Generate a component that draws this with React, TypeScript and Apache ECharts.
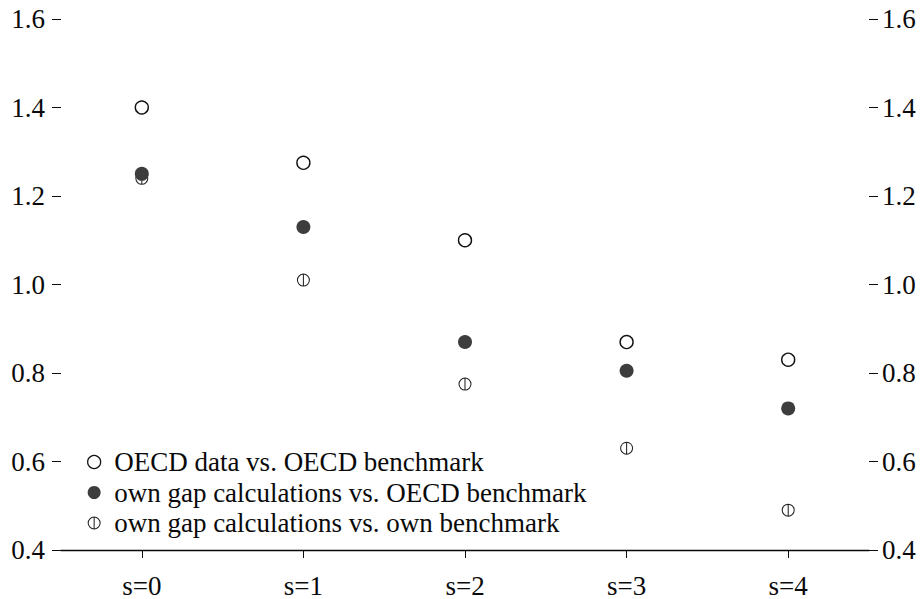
import React, { useEffect, useRef } from "react";
import * as echarts from "echarts";

const categories = ["s=0", "s=1", "s=2", "s=3", "s=4"];
const oecdVsOecd = [1.4, 1.275, 1.1, 0.87, 0.83];
const ownVsOecd = [1.25, 1.13, 0.87, 0.805, 0.72];
const ownVsOwn = [1.24, 1.01, 0.775, 0.63, 0.49];
const seriesNames = [
  "OECD data vs. OECD benchmark",
  "own gap calculations vs. OECD benchmark",
  "own gap calculations vs. own benchmark",
];
const yMin = 0.4;
const yMax = 1.6;
const yStep = 0.2;

const FONT = "Liberation Serif";
const INK = "#0a0a0a";
const circleBar =
  "path://M0,-10 A10,10 0 1,1 0,10 A10,10 0 1,1 0,-10 Z M0,-8.4 A8.4,8.4 0 1,0 0,8.4 A8.4,8.4 0 1,0 0,-8.4 Z M-0.8,-8.6 L0.8,-8.6 L0.8,8.6 L-0.8,8.6 Z";

export default function App() {
  const ref = useRef<HTMLDivElement>(null);
  useEffect(() => {
    if (!ref.current) return;
    const chart = echarts.init(ref.current, null, { renderer: "svg" });
    const yAxisBase = (pos: "left" | "right", margin: number) => ({
      type: "value",
      position: pos,
      min: yMin,
      max: yMax,
      interval: yStep,
      axisLine: { show: false },
      axisTick: { show: true, length: 9, lineStyle: { color: INK, width: 1 } },
      splitLine: { show: false },
      axisLabel: {
        margin,
        color: INK,
        fontFamily: FONT,
        fontSize: 27,
        formatter: (v: number) => v.toFixed(1),
      },
    });
    chart.setOption({
      animation: false,
      backgroundColor: "#ffffff",
      grid: { left: 61, right: 53, top: 19, bottom: 46, containLabel: false },
      xAxis: {
        type: "category",
        data: categories,
        boundaryGap: true,
        axisLine: { show: true, lineStyle: { color: INK, width: 1.3 } },
        axisTick: {
          show: true,
          alignWithLabel: true,
          length: 8,
          lineStyle: { color: INK, width: 1 },
        },
        axisLabel: {
          margin: 22,
          color: INK,
          fontFamily: FONT,
          fontSize: 27,
        },
        splitLine: { show: false },
      },
      yAxis: [yAxisBase("left", 16), yAxisBase("right", 13)],
      legend: {
        orient: "vertical",
        left: 82,
        top: 443,
        itemWidth: 30,
        itemHeight: 13,
        itemGap: 2.5,
        textStyle: {
          color: INK,
          fontFamily: FONT,
          fontSize: 27,
          lineHeight: 28,
        },
        data: [
          {
            name: seriesNames[0],
            icon: "circle",
            itemStyle: { color: "#ffffff", borderColor: "#111", borderWidth: 1.3, opacity: 1 },
          },
          {
            name: seriesNames[1],
            icon: "circle",
            itemStyle: { color: "#3d3d3d", borderWidth: 0, opacity: 1 },
          },
          {
            name: seriesNames[2],
            icon: circleBar,
            itemStyle: { color: "#222222", borderWidth: 0, opacity: 1 },
          },
        ],
      },
      series: [
        {
          name: seriesNames[2],
          type: "scatter",
          data: ownVsOwn,
          symbol: circleBar,
          symbolSize: 13,
          itemStyle: { color: "#222222", borderWidth: 0, opacity: 1 },
          z: 2,
        },
        {
          name: seriesNames[1],
          type: "scatter",
          data: ownVsOecd,
          symbol: "circle",
          symbolSize: 14,
          itemStyle: { color: "#3d3d3d", borderWidth: 0, opacity: 1 },
          z: 3,
        },
        {
          name: seriesNames[0],
          type: "scatter",
          data: oecdVsOecd,
          symbol: "circle",
          symbolSize: 13,
          itemStyle: {
            color: "rgba(255,255,255,0)",
            borderColor: "#111111",
            borderWidth: 1.4,
            opacity: 1,
          },
          z: 4,
        },
      ],
    });
    return () => chart.dispose();
  }, []);
  return (
    <div
      ref={ref}
      style={{ position: "fixed", left: 0, top: 0, width: 922, height: 599, background: "#fff" }}
    />
  );
}
